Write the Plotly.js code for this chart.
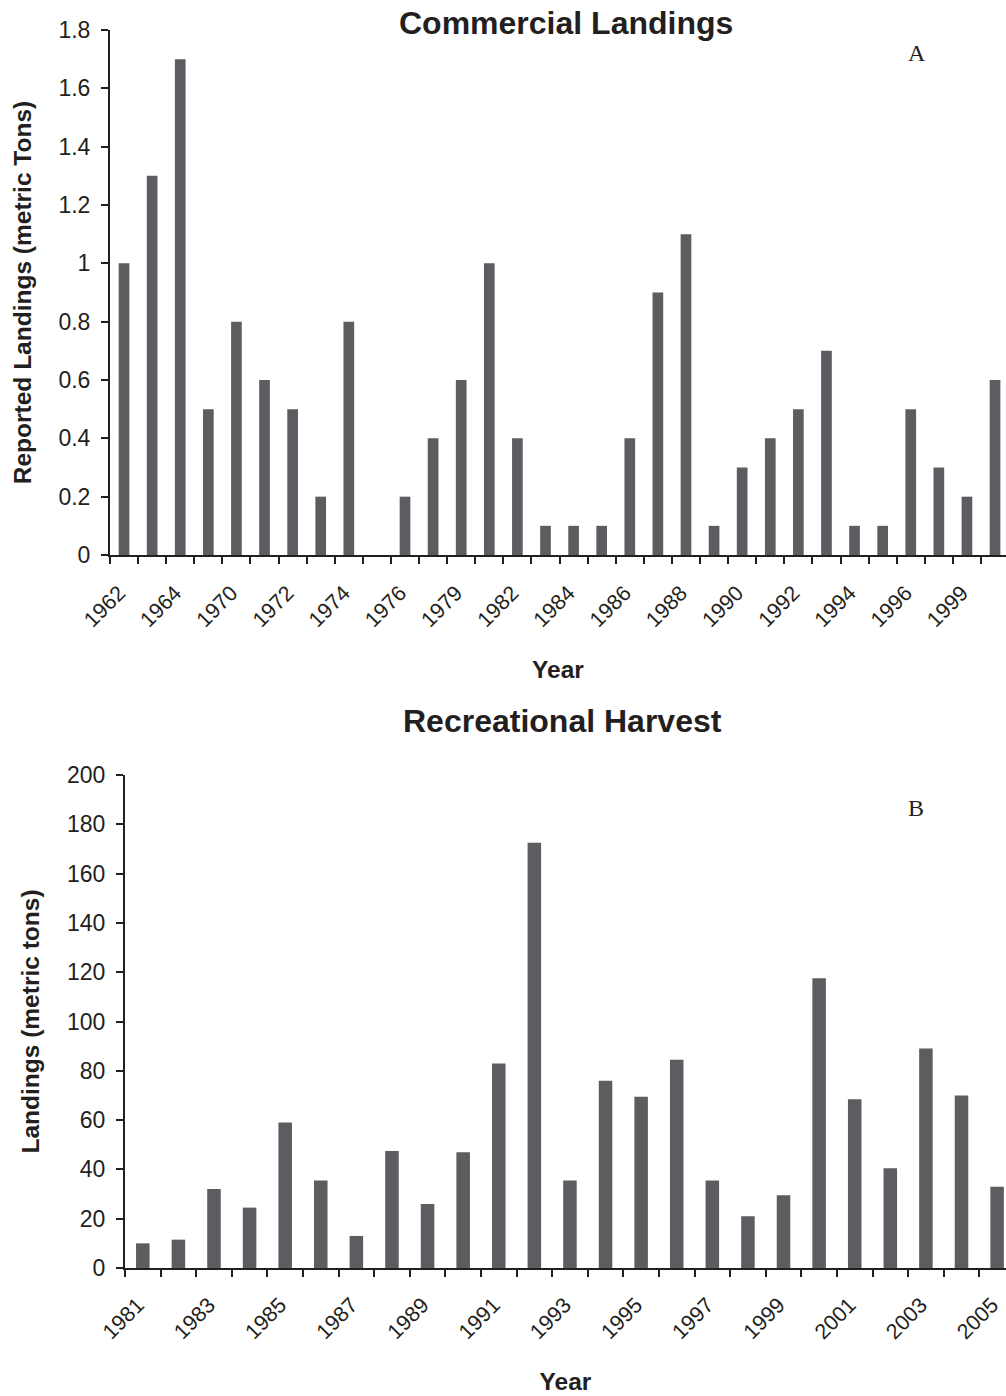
<!DOCTYPE html>
<html>
<head>
<meta charset="utf-8">
<script src="https://cdn.plot.ly/plotly-3.0.1.min.js"></script>
<style>
  html, body { margin: 0; padding: 0; background: #fff; overflow: hidden; }
  #chart { width: 1006px; height: 1396px; }
</style>
</head>
<body>
<div id="chart"></div>
<script>
// Panel A - commercial landings (metric tons)
const yearsA = ['1962', '1963', '1964', '1965', '1970', '1971', '1972', '1973',
  '1974', '1975', '1976', '1977', '1979', '1980', '1982', '1983',
  '1984', '1985', '1986', '1987', '1988', '1989', '1990', '1991',
  '1992', '1993', '1994', '1995', '1996', '1997', '1999', '2000']
const landingsA = [1.0, 1.3, 1.7, 0.5, 0.8, 0.6, 0.5, 0.2,
  0.8, 0, 0.2, 0.4, 0.6, 1.0, 0.4, 0.1,
  0.1, 0.1, 0.4, 0.9, 1.1, 0.1, 0.3, 0.4,
  0.5, 0.7, 0.1, 0.1, 0.5, 0.3, 0.2, 0.6]
const labelsA = ['1962', '1964', '1970', '1972', '1974', '1976', '1979', '1982',
  '1984', '1986', '1988', '1990', '1992', '1994', '1996', '1999']

// Panel B - recreational harvest (metric tons)
const yearsB = ['1981', '1982', '1983', '1984', '1985', '1986', '1987', '1988',
  '1989', '1990', '1991', '1992', '1993', '1994', '1995', '1996', '1997',
  '1998', '1999', '2000', '2001', '2002', '2003', '2004', '2005']
const harvestB = [10, 11.5, 32, 24.5, 59, 35.5, 13, 47.5,
  26, 47, 83, 172.5, 35.5, 76, 69.5, 84.5, 35.5,
  21, 29.5, 117.5, 68.5, 40.5, 89, 70, 33]
const labelsB = ['1981', '1983', '1985', '1987', '1989', '1991', '1993',
  '1995', '1997', '1999', '2001', '2003', '2005']

const W = 1006
const H = 1396
const ink = '#231f20'
const barColor = '#5c5d61'
const sans = 'Liberation Sans, Arial, Helvetica, sans-serif'
const serif = 'Liberation Serif, Times New Roman, serif'

// helpers: pixel -> paper fractions
const px = v => v / W
const py = v => 1 - v / H

function bars (x, y, xa, ya) {
  return {
    type: 'bar',
    x: x,
    y: y,
    xaxis: xa,
    yaxis: ya,
    marker: { color: barColor, line: { width: 0 } },
    hoverinfo: 'x+y'
  }
}

function catAxis (cats, shown, domain, range, anchor, standoff) {
  return {
    type: 'category',
    domain: domain,
    anchor: anchor,
    range: range,
    tickmode: 'array',
    tickvals: cats,
    ticktext: cats.map(c => shown.includes(c) ? c : ''),
    tickson: 'boundaries',
    tickangle: -45,
    ticks: 'outside',
    ticklen: 7,
    tickwidth: 2,
    tickcolor: ink,
    ticklabelstandoff: standoff,
    ticklabelshift: -5,
    showline: true,
    linecolor: ink,
    linewidth: 2,
    showgrid: false,
    zeroline: false,
    tickfont: { family: sans, size: 21.5, color: ink },
    title: {
      text: 'Year',
      font: { family: sans, size: 24.5, color: ink, weight: 'bold' },
      standoff: 30
    }
  }
}

function valAxis (title, range, dtick, domain, anchor) {
  return {
    domain: domain,
    anchor: anchor,
    range: range,
    dtick: dtick,
    tick0: 0,
    ticks: 'outside',
    ticklen: 7,
    tickwidth: 2,
    tickcolor: ink,
    showline: true,
    linecolor: ink,
    linewidth: 2,
    showgrid: false,
    zeroline: false,
    ticklabelstandoff: 6,
    tickfont: { family: sans, size: 23, color: ink },
    title: {
      text: title,
      font: { family: sans, size: 24.5, color: ink, weight: 'bold' },
      standoff: 20
    }
  }
}

const data = [
  bars(yearsA, landingsA, 'x', 'y'),
  bars(yearsB, harvestB, 'x2', 'y2')
]

const layout = {
  width: W,
  height: H,
  margin: { l: 0, r: 0, t: 0, b: 0 },
  paper_bgcolor: '#fff',
  plot_bgcolor: '#fff',
  showlegend: false,
  bargap: 0.62,
  xaxis: catAxis(yearsA, labelsA, [px(110), 1], [-0.5, 31.39], 'y', 15),
  yaxis: valAxis('Reported Landings (metric Tons)', [0, 1.8], 0.2, [py(555), py(30)], 'x'),
  xaxis2: catAxis(yearsB, labelsB, [px(125), 1], [-0.5, 24.25], 'y2', 14),
  yaxis2: valAxis('Landings (metric tons)', [0, 200], 20, [py(1268), py(775)], 'x2'),
  annotations: [
    {
      text: '<b>Commercial Landings</b>',
      xref: 'paper', yref: 'paper', x: px(566), y: py(23),
      xanchor: 'center', yanchor: 'middle', showarrow: false,
      font: { family: sans, size: 32, color: ink }
    },
    {
      text: '<b>Recreational Harvest</b>',
      xref: 'paper', yref: 'paper', x: px(562), y: py(721),
      xanchor: 'center', yanchor: 'middle', showarrow: false,
      font: { family: sans, size: 32, color: ink }
    },
    {
      text: 'A',
      xref: 'paper', yref: 'paper', x: px(917), y: py(53),
      xanchor: 'center', yanchor: 'middle', showarrow: false,
      font: { family: serif, size: 24, color: ink }
    },
    {
      text: 'B',
      xref: 'paper', yref: 'paper', x: px(916), y: py(808),
      xanchor: 'center', yanchor: 'middle', showarrow: false,
      font: { family: serif, size: 24, color: ink }
    }
  ]
}

Plotly.newPlot('chart', data, layout, { staticPlot: true })
</script>
</body>
</html>
